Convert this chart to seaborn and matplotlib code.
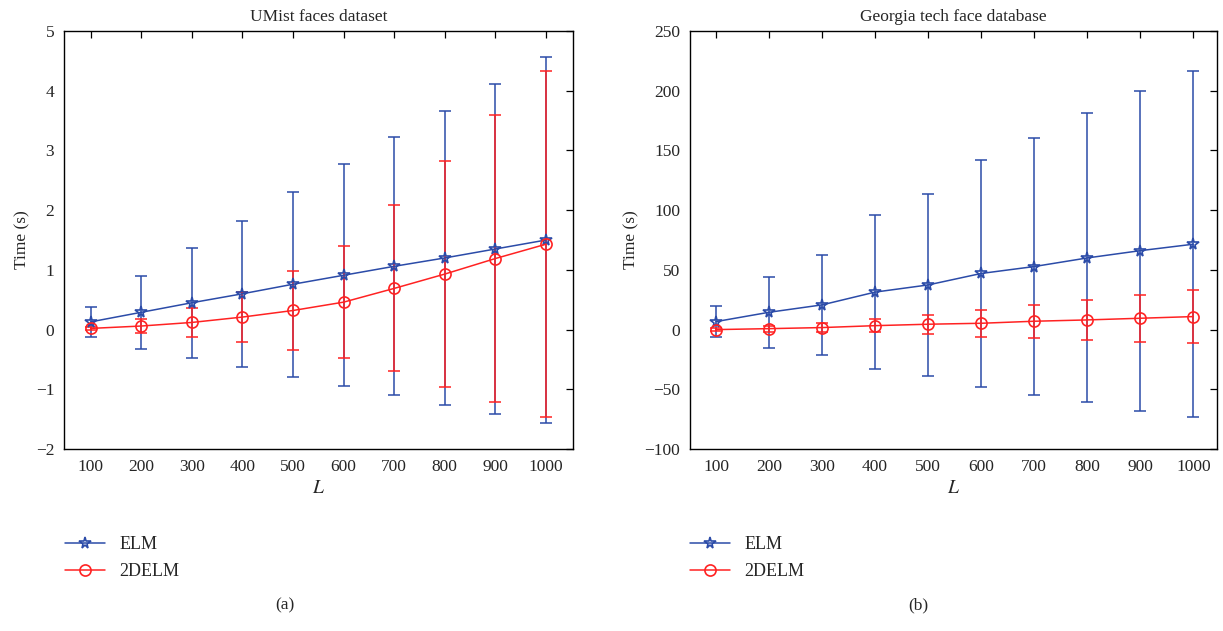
import numpy as np
import pandas as pd
import seaborn as sns
import matplotlib
matplotlib.use("Agg")
import matplotlib.pyplot as plt
from matplotlib.lines import Line2D

# ---- data ----
L_vals = [100, 200, 300, 400, 500, 600, 700, 800, 900, 1000]

umist_elm_mean = [0.13, 0.29, 0.45, 0.60, 0.76, 0.91, 1.06, 1.20, 1.35, 1.50]
umist_elm_std = [0.25, 0.61, 0.92, 1.22, 1.55, 1.86, 2.16, 2.46, 2.77, 3.07]
umist_2d_mean = [0.02, 0.06, 0.12, 0.21, 0.32, 0.46, 0.69, 0.93, 1.19, 1.43]
umist_2d_std = [0.03, 0.12, 0.25, 0.42, 0.66, 0.94, 1.39, 1.89, 2.40, 2.90]

gt_elm_mean = [6.7, 14.5, 20.7, 31.4, 37.4, 47.0, 52.8, 60.0, 66.1, 71.5]
gt_elm_std = [12.9, 29.9, 42.1, 64.4, 76.2, 94.9, 107.7, 121.0, 133.9, 145.1]
gt_2d_mean = [0.0, 0.8, 1.7, 3.3, 4.5, 5.3, 7.0, 8.1, 9.5, 10.9]
gt_2d_std = [1.0, 2.5, 3.5, 5.6, 8.1, 11.2, 14.0, 16.8, 19.6, 22.4]

titles = ["UMist faces dataset", "Georgia tech face database"]
panel_tags = ["(a)", "(b)"]

BLUE = "#2b4ba8"
RED = "#ff2222"

sns.set_theme(style="white")
plt.rcParams["font.family"] = ["Liberation Serif", "DejaVu Serif"]
plt.rcParams["mathtext.fontset"] = "stix"

fig = plt.figure(figsize=(12.23, 6.31), dpi=100)
ax1 = fig.add_axes([0.0523, 0.2884, 0.416, 0.6624])
ax2 = fig.add_axes([0.5642, 0.2884, 0.431, 0.6624])

panels = [
    (ax1, umist_elm_mean, umist_elm_std, umist_2d_mean, umist_2d_std, (-2, 5), np.arange(-2, 6, 1), (47, 1053)),
    (ax2, gt_elm_mean, gt_elm_std, gt_2d_mean, gt_2d_std, (-100, 250), np.arange(-100, 251, 50), (51, 1045)),
]

for i, (ax, em, es, dm, ds, ylim, yt, xlim) in enumerate(panels):
    df = pd.DataFrame({
        "L": L_vals * 2,
        "time": em + dm,
        "method": ["ELM"] * 10 + ["2DELM"] * 10,
    })
    # error bars first, then lines on top
    ax.errorbar(L_vals, em, yerr=es, fmt="none", ecolor=BLUE, elinewidth=1.1, capsize=4, capthick=1.1)
    ax.errorbar(L_vals, dm, yerr=ds, fmt="none", ecolor=RED, elinewidth=1.1, capsize=4, capthick=1.1)
    sns.lineplot(data=df[df.method == "ELM"], x="L", y="time", ax=ax, color=BLUE,
                 marker="*", markersize=8.5, markerfacecolor="none", markeredgecolor=BLUE,
                 markeredgewidth=1.2, linewidth=1.1, errorbar=None)
    sns.lineplot(data=df[df.method == "2DELM"], x="L", y="time", ax=ax, color=RED,
                 marker="o", markersize=8, markerfacecolor="none", markeredgecolor=RED,
                 markeredgewidth=1.2, linewidth=1.1, errorbar=None)

    ax.set_xlim(*xlim)
    ax.set_ylim(*ylim)
    ax.set_xticks(L_vals)
    ax.set_yticks(yt)
    ax.set_yticklabels([str(v).replace("-", "\u2212") for v in yt])
    ax.tick_params(direction="in", top=True, right=True, length=5, width=0.9,
                   labelsize=12.5, color="black", pad=7)
    for s in ax.spines.values():
        s.set_color("black")
        s.set_linewidth(1.0)
    ax.set_title(titles[i], fontsize=12.5, pad=7)
    ax.set_xlabel("$L$", fontsize=14, labelpad=4)
    ax.set_ylabel("Time (s)", fontsize=12.5, labelpad=4)

    handles = [
        Line2D([], [], color=BLUE, marker="*", markersize=8.5, markerfacecolor="none",
               markeredgewidth=1.2, linewidth=1.1),
        Line2D([], [], color=RED, marker="o", markersize=8, markerfacecolor="none",
               markeredgewidth=1.2, linewidth=1.1),
    ]
    ax.legend(handles, ["ELM", "2DELM"], loc="upper left", bbox_to_anchor=(-0.03, -0.17),
              frameon=False, fontsize=13, handlelength=2.2, labelspacing=0.55)

fig.text(0.233, 0.04, panel_tags[0], ha="center", va="center", fontsize=12.5)
fig.text(0.751, 0.04, panel_tags[1], ha="center", va="center", fontsize=12.5)

fig.savefig("out.png", dpi=100)
